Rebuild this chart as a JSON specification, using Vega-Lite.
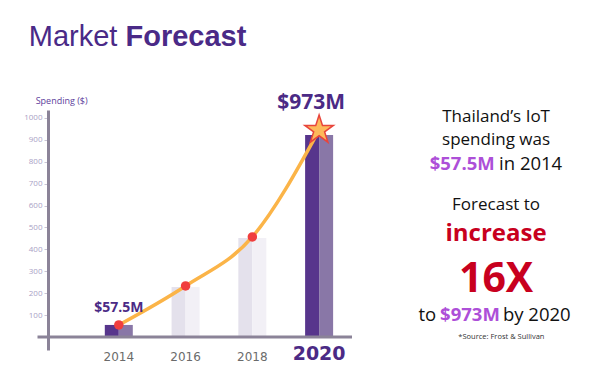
{
  "$schema": "https://vega.github.io/schema/vega-lite/v6.json",
  "autosize": "none",
  "width": 309,
  "height": 240,
  "padding": {"left": 48, "top": 110, "right": 243, "bottom": 25},
  "background": "white",
  "config": {"view": {"stroke": null}},
  "data": {"values": [
    {"year": 2014, "bar": 55, "trend": 55, "label": "$57.5M"},
    {"year": 2016, "bar": 228, "trend": 233, "label": ""},
    {"year": 2018, "bar": 452, "trend": 457, "label": ""},
    {"year": 2020, "bar": 922, "trend": 945, "label": "$973M"}
  ]},
  "layer": [
    {
      "mark": {"type": "bar", "size": 14, "xOffset": -7},
      "encoding": {
        "x": {"field": "year", "type": "quantitative", "scale": {"domain": [2012.029, 2020.985], "nice": false, "zero": false}, "axis": null},
        "y": {"field": "bar", "type": "quantitative", "scale": {"domain": [-59.4, 1036.5], "nice": false, "zero": false},
          "axis": {"values": [100, 200, 300, 400, 500, 600, 700, 800, 900, 1000], "format": "d", "tickCount": 20, "title": null, "grid": false, "labelOverlap": false,
            "domainColor": "#8b8398", "domainWidth": 3, "tickColor": "#c9c4d4", "tickSize": 4, "tickWidth": 1,
            "labelColor": "#a99fc6", "labelFontSize": 8, "labelPadding": 2, "labelFont": "Open Sans"}},
        "color": {"condition": {"test": "datum.year == 2014 || datum.year == 2020", "value": "#57358c"}, "value": "#e4e1ec"}
      }
    },
    {
      "mark": {"type": "bar", "size": 14, "xOffset": 7},
      "encoding": {
        "x": {"field": "year", "type": "quantitative"},
        "y": {"field": "bar", "type": "quantitative"},
        "color": {"condition": {"test": "datum.year == 2014 || datum.year == 2020", "value": "#8977a7"}, "value": "#f2f0f6"}
      }
    },
    {
      "data": {"values": [{}]},
      "mark": {"type": "rule", "color": "#8b8398", "strokeWidth": 3},
      "encoding": {"x": {"datum": 2011.565}, "x2": {"datum": 2020.985}, "y": {"datum": 0}}
    },
    {
      "mark": {"type": "line", "interpolate": "monotone", "color": "#fbb448", "strokeWidth": 3.5},
      "encoding": {"x": {"field": "year", "type": "quantitative"}, "y": {"field": "trend", "type": "quantitative"}}
    },
    {
      "transform": [{"filter": "datum.year < 2020"}],
      "mark": {"type": "circle", "size": 90, "color": "#f03e3e", "opacity": 1},
      "encoding": {"x": {"field": "year", "type": "quantitative"}, "y": {"field": "trend", "type": "quantitative"}}
    },
    {
      "transform": [{"filter": "datum.year == 2020"}],
      "mark": {"type": "point", "shape": "M0,-1L0.2245,-0.309L0.951,-0.309L0.363,0.118L0.588,0.809L0,0.382L-0.588,0.809L-0.363,0.118L-0.951,-0.309L-0.2245,-0.309Z", "filled": true, "fill": "#fdb95a", "stroke": "#e8453c", "strokeWidth": 1.5, "size": 900, "opacity": 1},
      "encoding": {"x": {"field": "year", "type": "quantitative"}, "y": {"field": "trend", "type": "quantitative"}}
    },
    {
      "transform": [{"filter": "datum.year == 2014"}],
      "mark": {"type": "text", "font": "Open Sans", "fontWeight": "bold", "fontSize": 14, "color": "#4b2a85", "dy": -17},
      "encoding": {"x": {"field": "year", "type": "quantitative"}, "y": {"field": "trend", "type": "quantitative"}, "text": {"field": "label"}}
    },
    {
      "transform": [{"filter": "datum.year == 2020"}],
      "mark": {"type": "text", "font": "Open Sans", "fontWeight": "bold", "fontSize": 21, "color": "#4b2a85", "dy": -27, "dx": -8},
      "encoding": {"x": {"field": "year", "type": "quantitative"}, "y": {"field": "trend", "type": "quantitative"}, "text": {"field": "label"}}
    },
    {
      "transform": [{"filter": "datum.year < 2020"}],
      "mark": {"type": "text", "font": "DejaVu Sans", "fontSize": 12, "color": "#6b6b6b", "baseline": "middle"},
      "encoding": {
        "x": {"field": "year", "type": "quantitative"},
        "y": {"datum": -91},
        "text": {"field": "year", "type": "nominal"}
      }
    },
    {
      "transform": [{"filter": "datum.year == 2020"}],
      "mark": {"type": "text", "font": "DejaVu Sans", "fontSize": 19, "fontWeight": "bold", "color": "#4b2a85", "baseline": "middle"},
      "encoding": {
        "x": {"field": "year", "type": "quantitative"},
        "y": {"datum": -78},
        "text": {"field": "year", "type": "nominal"}
      }
    },
    {
      "data": {"values": [{}]},
      "mark": {"type": "text", "text": "Spending ($)", "font": "Open Sans", "fontSize": 9, "color": "#5d3e9c", "align": "left", "baseline": "middle"},
      "encoding": {"x": {"datum": 2011.51}, "y": {"datum": 1077}}
    },
    {
      "data": {"values": [{}]},
      "mark": {"type": "text", "text": "Market", "font": "Liberation Sans", "fontSize": 29, "color": "#4a2a87", "align": "left", "baseline": "alphabetic"},
      "encoding": {"x": {"datum": 2011.304}, "y": {"datum": 1328}}
    },
    {
      "data": {"values": [{}]},
      "mark": {"type": "text", "text": "Forecast", "font": "Liberation Sans", "fontSize": 29, "fontWeight": "bold", "color": "#4a2a87", "align": "left", "baseline": "alphabetic"},
      "encoding": {"x": {"datum": 2014.2}, "y": {"datum": 1328}}
    },
    {
      "data": {"values": [{}]},
      "mark": {"type": "text", "text": "Thailand’s IoT", "font": "Open Sans", "fontSize": 17, "color": "#111111", "align": "center", "baseline": "alphabetic"},
      "encoding": {"x": {"datum": 2025.3}, "y": {"datum": 981}}
    },
    {
      "data": {"values": [{}]},
      "mark": {"type": "text", "text": "spending was", "font": "Open Sans", "fontSize": 17, "color": "#111111", "align": "center", "baseline": "alphabetic"},
      "encoding": {"x": {"datum": 2025.3}, "y": {"datum": 876}}
    },
    {
      "data": {"values": [{}]},
      "mark": {"type": "text", "text": "$57.5M", "font": "Open Sans", "fontSize": 18.5, "fontWeight": "bold", "color": "#ad4fd8", "align": "right", "baseline": "alphabetic"},
      "encoding": {"x": {"datum": 2025.26}, "y": {"datum": 762}}
    },
    {
      "data": {"values": [{}]},
      "mark": {"type": "text", "text": "in 2014", "font": "Open Sans", "fontSize": 18.5, "color": "#111111", "align": "left", "baseline": "alphabetic"},
      "encoding": {"x": {"datum": 2025.39}, "y": {"datum": 762}}
    },
    {
      "data": {"values": [{}]},
      "mark": {"type": "text", "text": "Forecast to", "font": "Open Sans", "fontSize": 17, "color": "#111111", "align": "center", "baseline": "alphabetic"},
      "encoding": {"x": {"datum": 2025.3}, "y": {"datum": 578}}
    },
    {
      "data": {"values": [{}]},
      "mark": {"type": "text", "text": "increase", "font": "Open Sans", "fontSize": 24, "fontWeight": "bold", "color": "#c8001e", "align": "center", "baseline": "alphabetic"},
      "encoding": {"x": {"datum": 2025.3}, "y": {"datum": 438}}
    },
    {
      "data": {"values": [{}]},
      "mark": {"type": "text", "text": "16X", "font": "Open Sans", "fontSize": 41, "fontWeight": "bold", "color": "#c8001e", "align": "center", "baseline": "alphabetic"},
      "encoding": {"x": {"datum": 2025.3}, "y": {"datum": 205}}
    },
    {
      "data": {"values": [{}]},
      "mark": {"type": "text", "text": "to", "font": "Open Sans", "fontSize": 18.5, "color": "#111111", "align": "right", "baseline": "alphabetic"},
      "encoding": {"x": {"datum": 2023.507}, "y": {"datum": 72}}
    },
    {
      "data": {"values": [{}]},
      "mark": {"type": "text", "text": "$973M", "font": "Open Sans", "fontSize": 18.5, "fontWeight": "bold", "color": "#ad4fd8", "align": "left", "baseline": "alphabetic"},
      "encoding": {"x": {"datum": 2023.623}, "y": {"datum": 72}}
    },
    {
      "data": {"values": [{}]},
      "mark": {"type": "text", "text": "by 2020", "font": "Open Sans", "fontSize": 18.5, "color": "#111111", "align": "left", "baseline": "alphabetic"},
      "encoding": {"x": {"datum": 2025.507}, "y": {"datum": 72}}
    },
    {
      "data": {"values": [{}]},
      "mark": {"type": "text", "text": "*Source: Frost & Sullivan", "font": "Open Sans", "fontSize": 7.5, "color": "#333333", "align": "center", "baseline": "alphabetic"},
      "encoding": {"x": {"datum": 2025.46}, "y": {"datum": -7}}
    }
  ]
}
